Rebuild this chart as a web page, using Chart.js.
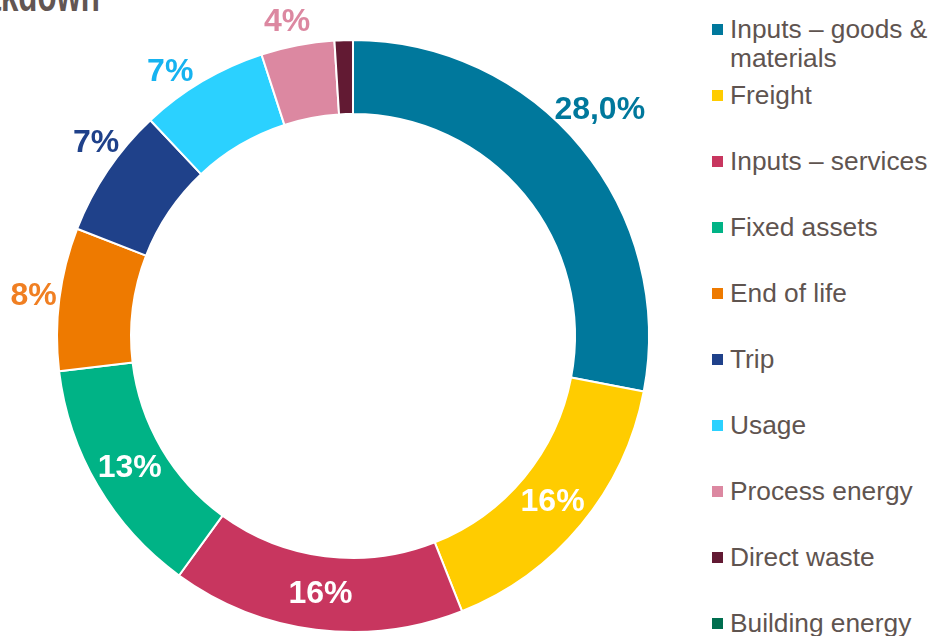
<!DOCTYPE html>
<html>
<head>
<meta charset="utf-8">
<script src="https://cdn.jsdelivr.net/npm/chart.js@4"></script>
<style>
  html, body { margin: 0; padding: 0; background: #fff; width: 931px; height: 636px; overflow: hidden; }
  #wrap { position: relative; width: 931px; height: 636px; }
  #chart { position: absolute; left: 0; top: 0; }
  .title { position: absolute; right: 831px; top: -32px; font: bold 46px 'Liberation Sans Narrow', 'Liberation Sans', sans-serif; color: #625653; white-space: nowrap; transform: scaleX(0.68); transform-origin: right top; }
  #legend { position: absolute; left: 712px; top: 15px; }
  .item { position: relative; height: 66px; }
  .item .box { position: absolute; left: 0; top: 9px; width: 11px; height: 11px; }
  .item .txt { position: absolute; left: 18px; top: 0; width: 201px; font: 26.3px 'Liberation Sans', Arial, sans-serif; line-height: 29px; color: #5f5450; }
</style>
</head>
<body>
<div id="wrap">
  <div class="title">Breakdown</div>
  <canvas id="chart" width="706" height="636"></canvas>
  <div id="legend"></div>
</div>
<script>
// Data
const categories = ['Inputs – goods & materials', 'Freight', 'Inputs – services', 'Fixed assets', 'End of life', 'Trip', 'Usage', 'Process energy', 'Direct waste', 'Building energy'];
const shares = [28.0, 16.0, 16.0, 13.1, 7.8, 7.1, 7.0, 4.0, 1.0, 0];
const shareLabels = ['28,0%', '16%', '16%', '13%', '8%', '7%', '7%', '4%', '', ''];
const labelInside = [false, true, true, true, false, false, false, false, false, false];

const colors = ['#00789c', '#ffcc00', '#c8365f', '#00b386', '#ee7a00', '#1f418a', '#2bd1ff', '#dc88a1', '#621a33', '#006e4f'];
const labelColors = ['#00789c', '#fff', '#fff', '#fff', '#f07f22', '#1f418a', '#16b3f0', '#dc88a1', '#621a33', '#006e4f'];
// small angular nudges (degrees) for the outside labels, as placed in the original
const labelNudge = [-3, 0, 0, 0, 0, 3, -4, -1, 0, 0];

// Legend (HTML so the first entry can wrap)
document.getElementById('legend').innerHTML = categories.map((c, i) => `
  <div class="item"><span class="box" style="background:${colors[i]}"></span><span class="txt">${c}</span></div>`).join('');

// Percent labels on / beside each slice
const sliceLabels = {
  id: 'sliceLabels',
  afterDatasetsDraw(chart) {
    const { ctx } = chart;
    const meta = chart.getDatasetMeta(0);
    ctx.save();
    ctx.font = 'bold 32px "Liberation Sans", Arial, sans-serif';
    ctx.textAlign = 'center';
    ctx.textBaseline = 'middle';
    meta.data.forEach((arc, i) => {
      const txt = shareLabels[i];
      if (!txt) return;
      const { x, y, startAngle, endAngle, innerRadius, outerRadius } = arc.getProps(['x', 'y', 'startAngle', 'endAngle', 'innerRadius', 'outerRadius'], true);
      const mid = (startAngle + endAngle) / 2 + labelNudge[i] * Math.PI / 180;
      const r = labelInside[i]
        ? (innerRadius + outerRadius) / 2
        : outerRadius + 12 + ctx.measureText(txt).width * 0.3;
      ctx.fillStyle = labelColors[i];
      ctx.fillText(txt, x + Math.cos(mid) * r, y + Math.sin(mid) * r + 1);
    });
    ctx.restore();
  }
};

new Chart(document.getElementById('chart'), {
  type: 'doughnut',
  data: {
    labels: categories,
    datasets: [{
      data: shares,
      backgroundColor: colors,
      borderColor: '#ffffff',
      borderWidth: 2
    }]
  },
  options: {
    responsive: false,
    animation: false,
    cutout: '75%',
    layout: { padding: { left: 56, right: 56, top: 39, bottom: 3 } },
    plugins: { legend: { display: false }, tooltip: { enabled: false } }
  },
  plugins: [sliceLabels]
});
</script>
</body>
</html>
